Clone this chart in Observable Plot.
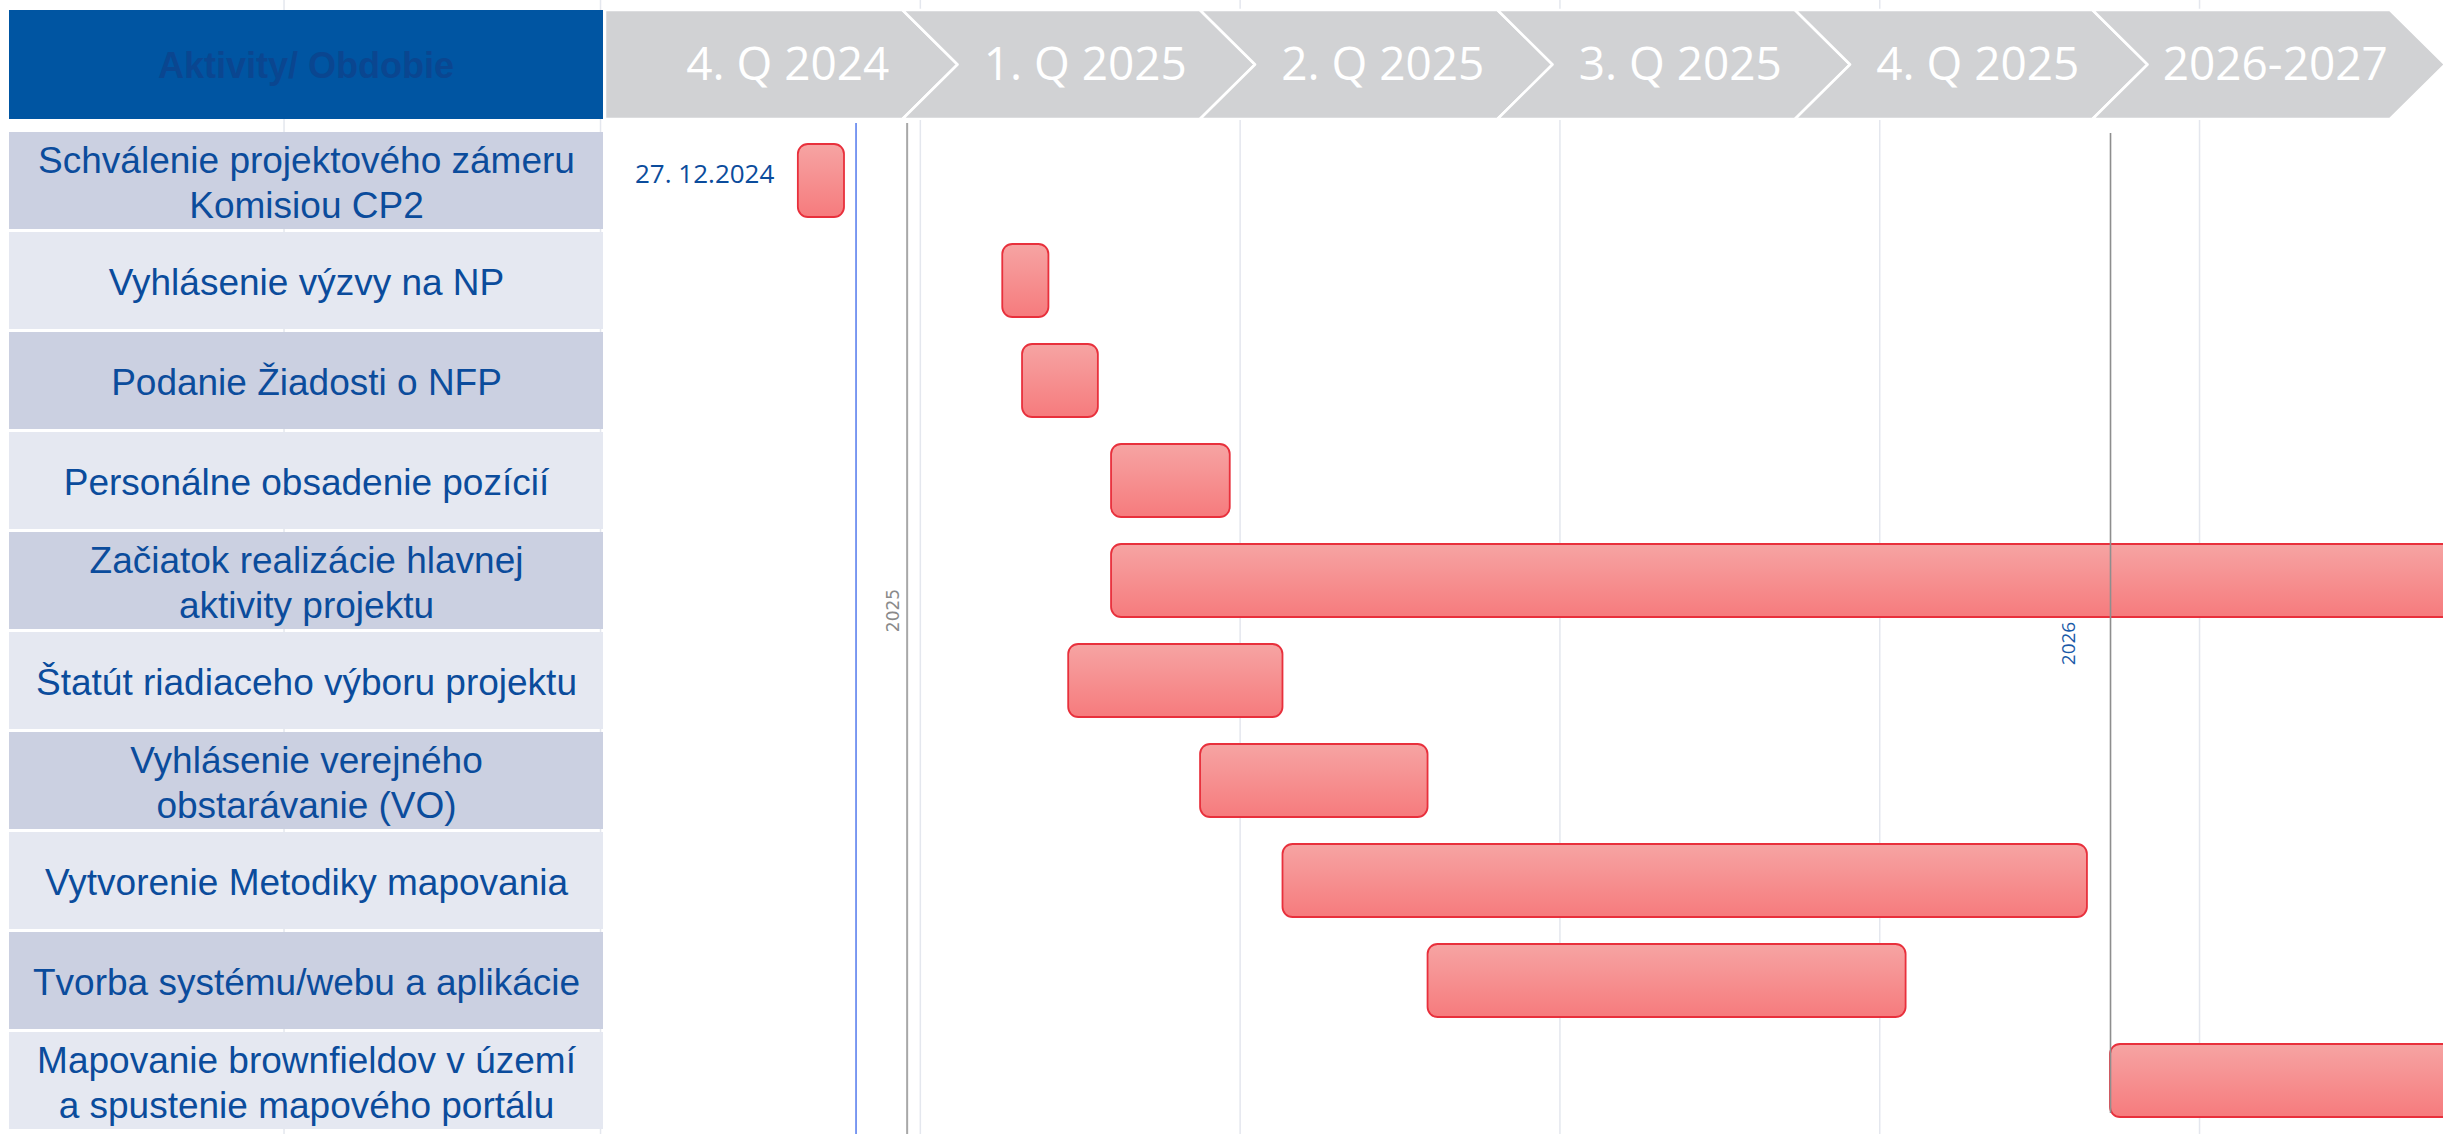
<!DOCTYPE html>
<html><head><meta charset="utf-8">
<script src="https://cdn.jsdelivr.net/npm/d3@7"></script>
<script src="https://cdn.jsdelivr.net/npm/@observablehq/plot@0.6"></script>
<style>
html,body{margin:0;padding:0;background:#fff;}
#wrap{position:relative;width:2443px;height:1134px;overflow:hidden;background:#fff;}
#wrap > svg{position:absolute;left:0;top:0;max-width:none;}
#head{position:absolute;left:9px;top:10px;width:594px;height:109px;background:#0055a2;display:flex;align-items:center;justify-content:center;font:bold 36px "Liberation Sans",Arial,sans-serif;color:#0a4690;padding-top:3px;box-sizing:border-box;}
</style></head><body><div id="wrap"></div>
<script>
// ---- data ----
const headerLabel = "Aktivity/ Obdobie";
const tasks = [
  "Schválenie projektového zámeru\nKomisiou CP2",
  "Vyhlásenie výzvy na NP",
  "Podanie Žiadosti o NFP",
  "Personálne obsadenie pozícií",
  "Začiatok realizácie hlavnej\naktivity projektu",
  "Štatút riadiaceho výboru projektu",
  "Vyhlásenie verejného\nobstarávanie (VO)",
  "Vytvorenie Metodiky mapovania",
  "Tvorba systému/webu a aplikácie",
  "Mapovanie brownfieldov v území\na spustenie mapového portálu"
];
const startDates = ["2024-11-29","2025-01-30","2025-02-05","2025-03-04","2025-03-04","2025-02-19","2025-03-31","2025-04-25","2025-06-08","2026-01-01"];
const endDates   = ["2024-12-13","2025-02-13","2025-02-28","2025-04-09","2027-12-31","2025-04-25","2025-06-08","2025-12-25","2025-10-31","2027-12-31"];
const periods = ["4. Q 2024","1. Q 2025","2. Q 2025","3. Q 2025","4. Q 2025","2026-2027"];
const gridDates = ["2024-06-26","2024-09-30","2025-01-05","2025-04-12","2025-07-18","2025-10-23","2026-01-28"];
const todayDate = "2024-12-16T12:00Z";
const yearDates = ["2025-01-01","2026-01-01"];
const yearLabels = ["2025","2026"];
const milestoneLabel = "27. 12.2024";
const xDomain = ["2024-04-01","2026-04-12"];

// ---- build ----
const rows = tasks.map((t,i)=>({task:t, start:new Date(startDates[i]), end:new Date(endDates[i])}));
const years = yearDates.map((d,i)=>({date:new Date(d), label:yearLabels[i]}));
const yOpts = {type:"band", domain:tasks, range:[129,1133], paddingInner:0.03, paddingOuter:0, axis:null};

const gantt = Plot.plot({
  width:2443, height:1134, margin:0,
  x:{type:"utc", domain:xDomain.map(d=>new Date(d)), axis:null},
  y:yOpts,
  style:{background:"white"},
  marks:[
    Plot.ruleX(gridDates.map(d=>new Date(d)), {stroke:"#e4e7ee", strokeWidth:1.5}),
    Plot.barX(rows, {x1:"start", x2:"end", y:"task", fill:"url(#barGrad)", stroke:"#e8303c", strokeWidth:1.8, rx:10, insetTop:12, insetBottom:12, clip:true}),
    Plot.ruleX([new Date(todayDate)], {stroke:"#6f8ff0", strokeWidth:1.8, insetTop:123}),
    Plot.ruleX([years[0]], {x:"date", stroke:"#a8a8a8", strokeWidth:2, insetTop:123}),
    Plot.ruleX([years[1]], {x:"date", stroke:"#8e8e8e", strokeWidth:1.6, insetTop:133, insetBottom:21}),
    Plot.text([years[0]], {x:"date", text:"label", frameAnchor:"middle", rotate:-90, dx:-14, dy:43, fill:"#8a8a8a", fontSize:17, fontFamily:"DejaVu Sans"}),
    Plot.text([years[1]], {x:"date", text:"label", frameAnchor:"middle", rotate:-90, dx:-42, dy:76, fill:"#1a5aa8", fontSize:19, fontFamily:"Open Sans"}),
    Plot.text([rows[0]], {x:"start", y:"task", text:()=>milestoneLabel, dx:-24, dy:-6, textAnchor:"end", fill:"#0b4c9c", fontSize:26, fontFamily:"Open Sans"})
  ]
});
const ns = "http://www.w3.org/2000/svg";
const defs = document.createElementNS(ns,"defs");
defs.innerHTML = '<linearGradient id="barGrad" x1="0" y1="0" x2="0" y2="1"><stop offset="0" stop-color="#f6a4a3"/><stop offset="1" stop-color="#f67b7d"/></linearGradient>';
gantt.insertBefore(defs, gantt.firstChild);

const left = Plot.plot({
  width:606, height:1134, margin:0,
  x:{domain:[0,1], range:[9,603], axis:null},
  y:yOpts,
  style:{background:"transparent"},
  marks:[
    Plot.barX(tasks.filter((d,i)=>i%2===0), {x1:0, x2:1, y:d=>d, fill:"#cbd0e1"}),
    Plot.barX(tasks.filter((d,i)=>i%2===1), {x1:0, x2:1, y:d=>d, fill:"#e5e8f1"}),
    Plot.text(tasks, {x:0.5, y:d=>d, text:d=>d, fill:"#0b4c9c", fontSize:37, fontFamily:"Liberation Sans, Arial, sans-serif", lineHeight:1.21})
  ]
});

const depth = 0.185;
const chevronPts = periods.flatMap((p,i)=>[
  {p, y:1,   x1:i===0?0:i,       x2:i+1},
  {p, y:0.5, x1:i===0?0:i+depth, x2:i+1+depth},
  {p, y:0,   x1:i===0?0:i,       x2:i+1}
]);
const header = Plot.plot({
  width:2443, height:120, margin:0,
  x:{domain:[0,periods.length], range:[605,2390], axis:null},
  y:{domain:[0,1], range:[119,10], axis:null},
  style:{background:"transparent"},
  marks:[
    Plot.areaX(chevronPts, {y:"y", x1:"x1", x2:"x2", z:"p", fill:"#d1d2d4", stroke:"white", strokeWidth:2.5}),
    Plot.text(periods, {x:(p,i)=>i+0.5+depth/2, y:()=>0.5, text:d=>d, dx:6, fill:"white", fontSize:46, fontFamily:"Open Sans"})
  ]
});

const wrap = document.getElementById("wrap");
wrap.appendChild(gantt);
wrap.appendChild(left);
wrap.appendChild(header);
const head = document.createElement("div");
head.id = "head";
head.textContent = headerLabel;
wrap.appendChild(head);
</script>
</body></html>
